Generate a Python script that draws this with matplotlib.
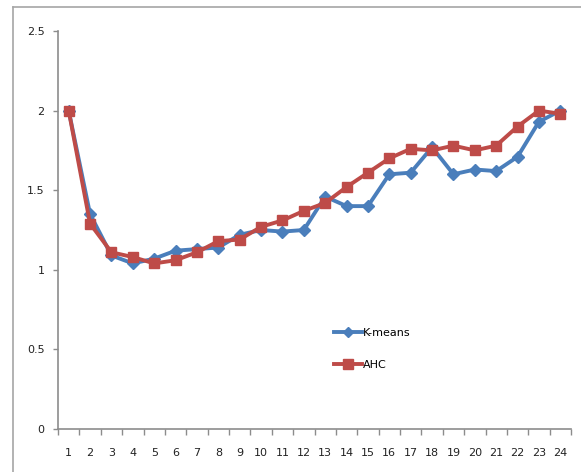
import matplotlib
matplotlib.use("Agg")
import matplotlib.pyplot as plt
from matplotlib.lines import Line2D
from matplotlib.ticker import FixedLocator, FuncFormatter

# K-means vs AHC over 24 runs
runs = list(range(1, 25))
kmeans = [2.00, 1.35, 1.09, 1.04, 1.07, 1.12, 1.13, 1.14, 1.22, 1.25, 1.24, 1.25,
          1.46, 1.40, 1.40, 1.60, 1.61, 1.77, 1.60, 1.63, 1.62, 1.71, 1.93, 2.00]
ahc = [2.00, 1.29, 1.11, 1.08, 1.04, 1.06, 1.11, 1.18, 1.19, 1.27, 1.31, 1.37,
       1.42, 1.52, 1.61, 1.70, 1.76, 1.75, 1.78, 1.75, 1.78, 1.90, 2.00, 1.98]
y_ticks = [0, 0.5, 1, 1.5, 2, 2.5]

blue = "#4A7EBB"
red = "#BE4B48"
axis_gray = "#8C8C8C"

fig = plt.figure(figsize=(5.81, 4.72), dpi=100)
fig.patch.set_facecolor("white")

# chart frame (top and left edges)
fig.add_artist(Line2D([13 / 581, 1.0], [1 - 7 / 472, 1 - 7 / 472],
                      transform=fig.transFigure, color="#A6A6A6", lw=1.2))
fig.add_artist(Line2D([13 / 581, 13 / 581], [0.0, 1 - 7 / 472],
                      transform=fig.transFigure, color="#A6A6A6", lw=1.2))

ax = fig.add_axes([58 / 581, 1 - 429 / 472, 513 / 581, 398 / 472])

ax.plot(runs, kmeans, color=blue, lw=2.8, marker="D", markersize=6,
        markeredgecolor=blue, label="K-means", zorder=3)
ax.plot(runs, ahc, color=red, lw=2.8, marker="s", markersize=7.5,
        markeredgecolor=red, label="AHC", zorder=4)

ax.set_xlim(0.5, 24.5)
ax.set_ylim(0, 2.5)

ax.xaxis.set_major_locator(FixedLocator(runs))
ax.xaxis.set_minor_locator(FixedLocator([r + 0.5 for r in range(0, 25)]))
ax.set_yticks(y_ticks)
ax.yaxis.set_major_formatter(FuncFormatter(lambda v, p: f"{v:g}"))

ax.tick_params(axis="x", which="major", length=0, pad=14, labelsize=8, colors="#222222")
ax.tick_params(axis="x", which="minor", length=4.5, width=1, color=axis_gray)
ax.tick_params(axis="y", which="major", length=3.8, width=1, color=axis_gray,
               pad=6, labelsize=8, labelcolor="#222222")

for side in ["top", "right"]:
    ax.spines[side].set_visible(False)
for side in ["left", "bottom"]:
    ax.spines[side].set_color(axis_gray)
    ax.spines[side].set_linewidth(1.2)

ax.legend(loc="upper left", bbox_to_anchor=((324 - 58) / 513, (429 - 318) / 398),
          frameon=False, fontsize=8, handlelength=2.5, handletextpad=0.1,
          labelspacing=2.0, markerscale=0.9)

fig.savefig("out.png", dpi=100, facecolor="white")
